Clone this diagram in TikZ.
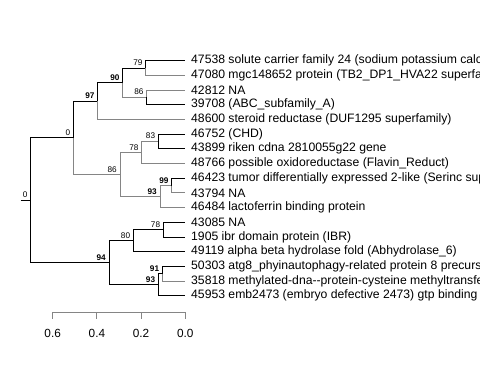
\documentclass[tikz,border=0pt]{standalone}
\usepackage{fontspec}
\setmainfont{Liberation Sans}
\definecolor{brgrey}{rgb}{0.52,0.52,0.52}
\begin{document}
\begin{tikzpicture}[x=1pt,y=-1pt,
  br/.style={line width=0.9pt,black},
  bg/.style={line width=0.9pt,brgrey},
  tip/.style={anchor=west,inner sep=0pt,font=\fontsize{12.2}{13}\selectfont},
  bs/.style={anchor=base east,inner sep=0pt,font=\fontsize{8.2}{9}\selectfont},
  bsb/.style={bs,font=\fontsize{8.2}{9}\selectfont\bfseries},
  axlab/.style={inner sep=0pt,font=\fontsize{11.8}{13}\selectfont}]
\useasboundingbox (0,0) rectangle (480,384);
% tips
\foreach \i/\y in {1/60.6,2/75.3,3/90.0,4/104.7,5/119.4,6/134.1,7/148.8,8/163.5,9/178.2,10/192.9,11/207.6,12/222.3,13/237.0,14/251.7,15/266.4,16/281.1,17/295.8}
  \coordinate (e\i) at (185,\y);
\node[tip] (t1) at (191,60.6) {47538 solute carrier family 24 (sodium potassium calcium exchanger)};
\node[tip] (t2) at (191,75.3) {47080 mgc148652 protein (TB2\_DP1\_HVA22 superfamily)};
\node[tip] (t3) at (191,90.0) {42812 NA};
\node[tip] (t4) at (191,104.7) {39708 (ABC\_subfamily\_A)};
\node[tip] (t5) at (191,119.4) {48600 steroid reductase (DUF1295 superfamily)};
\node[tip] (t6) at (191,134.1) {46752 (CHD)};
\node[tip] (t7) at (191,148.8) {43899 riken cdna 2810055g22 gene};
\node[tip] (t8) at (191,163.5) {48766 possible oxidoreductase (Flavin\_Reduct)};
\node[tip] (t9) at (191,178.2) {46423 tumor differentially expressed 2-like (Serinc superfamily)};
\node[tip] (t10) at (191,192.9) {43794 NA};
\node[tip] (t11) at (191,207.6) {46484 lactoferrin binding protein};
\node[tip] (t12) at (191,222.3) {43085 NA};
\node[tip] (t13) at (191,237.0) {1905 ibr domain protein (IBR)};
\node[tip] (t14) at (191,251.7) {49119 alpha beta hydrolase fold (Abhydrolase\_6)};
\node[tip] (t15) at (191,266.4) {50303 atg8\_phyinautophagy-related protein 8 precursor};
\node[tip] (t16) at (191,281.1) {35818 methylated-dna{-}{-}protein-cysteine methyltransferase};
\node[tip] (t17) at (191,295.8) {45953 emb2473 (embryo defective 2473) gtp binding domain};
% internal nodes
\coordinate (n79) at (145.7,67.95);
\coordinate (n86a) at (146.7,97.35);
\coordinate (n90) at (122.7,82.65);
\coordinate (n97) at (97.7,101.0);
\coordinate (n83) at (158.3,141.45);
\coordinate (n78a) at (141.7,152.5);
\coordinate (n99) at (171.7,185.55);
\coordinate (n93a) at (160,196.6);
\coordinate (n86b) at (120,174.55);
\coordinate (n0) at (73.3,137.8);
\coordinate (n78b) at (163.3,229.65);
\coordinate (n80) at (133.3,240.7);
\coordinate (n91) at (162.3,273.75);
\coordinate (n93b) at (158.3,284.8);
\coordinate (n94) at (109,262.75);
\coordinate (root) at (30.7,200.3);
\coordinate (stub) at (20.7,200.3);
% edges
\draw[br] (stub) -- (root);
\draw[br] (root) |- (n0);
\draw[br] (root) |- (n94);
\draw[br] (n0) |- (n97);
\draw[bg] (n0) |- (n86b);
\draw[br] (n97) |- (n90);
\draw[bg] (n97) |- (e5);
\draw[br] (n90) |- (n79);
\draw[bg] (n90) |- (n86a);
\draw[br] (n79) |- (e1);
\draw[bg] (n79) |- (e2);
\draw[bg] (n86a) |- (e3);
\draw[br] (n86a) |- (e4);
\draw[bg] (n86b) |- (n78a);
\draw[bg] (n78a) |- (n83);
\draw[br] (n83) |- (e6);
\draw[br] (n83) |- (e7);
\draw[bg] (n78a) |- (e8);
\draw[bg] (n86b) |- (n93a);
\draw[bg] (n93a) |- (n99);
\draw[br] (n99) |- (e9);
\draw[bg] (n99) |- (e10);
\draw[bg] (n93a) |- (e11);
\draw[br] (n94) |- (n80);
\draw[br] (n80) |- (n78b);
\draw[br] (n78b) |- (e12);
\draw[br] (n78b) |- (e13);
\draw[br] (n80) |- (e14);
\draw[br] (n94) |- (n93b);
\draw[br] (n93b) |- (n91);
\draw[br] (n91) |- (e15);
\draw[bg] (n91) |- (e16);
\draw[br] (n93b) |- (e17);
% support labels
\node[bs] (l79) at ([xshift=-3,yshift=2.5]n79) {79};
\node[bs] (l86a) at ([xshift=-3,yshift=2.5]n86a) {86};
\node[bsb] (l90) at ([xshift=-3,yshift=2.5]n90) {90};
\node[bsb] (l97) at ([xshift=-3,yshift=2.5]n97) {97};
\node[bs] (l83) at ([xshift=-3,yshift=2.5]n83) {83};
\node[bs] (l78a) at ([xshift=-3,yshift=2.5]n78a) {78};
\node[bsb] (l99) at ([xshift=-3,yshift=2.5]n99) {99};
\node[bsb] (l93a) at ([xshift=-3,yshift=2.5]n93a) {93};
\node[bs] (l86b) at ([xshift=-3,yshift=2.5]n86b) {86};
\node[bs] (l0) at ([xshift=-3,yshift=2.5]n0) {0};
\node[bs] (l78b) at ([xshift=-3,yshift=2.5]n78b) {78};
\node[bs] (l80) at ([xshift=-3,yshift=2.5]n80) {80};
\node[bsb] (l91) at ([xshift=-3,yshift=2.5]n91) {91};
\node[bsb] (l93b) at ([xshift=-3,yshift=2.5]n93b) {93};
\node[bsb] (l94) at ([xshift=-3,yshift=2.5]n94) {94};
\node[bs] (lroot) at ([xshift=-3,yshift=2.5]root) {0};
% axis
\coordinate (a6) at (52.7,312);
\coordinate (a0) at (185.3,312);
\draw[bg] (a6) -- (a0);
\foreach \v/\x in {0.6/52.7,0.4/96.9,0.2/141.1,0.0/185.3}{
  \draw[bg] (\x,312) -- (\x,319);
  \node[axlab] at (\x,333) {\v};
}
\end{tikzpicture}
\end{document}
